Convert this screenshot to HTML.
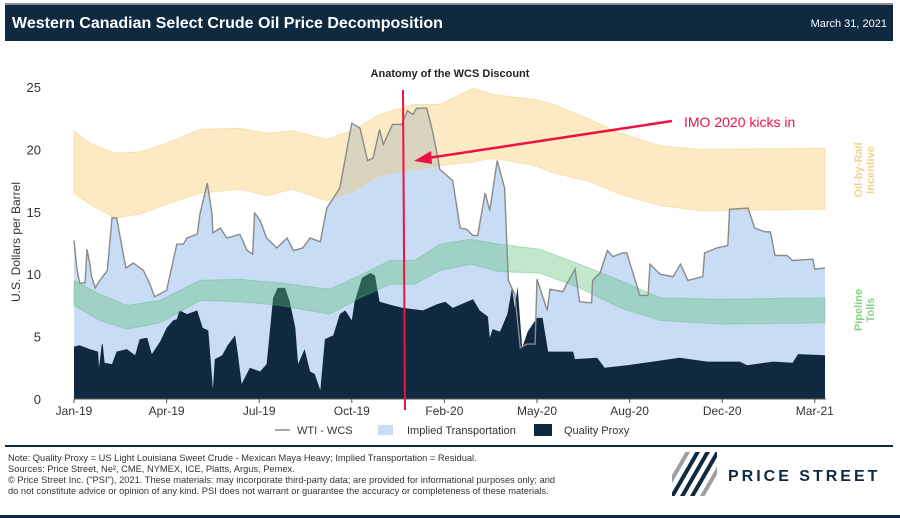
<!DOCTYPE html>
<html><head><meta charset="utf-8"><style>
body{margin:0;background:#fff;font-family:"Liberation Sans",Arial,sans-serif;}
#wrap{position:relative;width:900px;height:518px;overflow:hidden;background:#fff}
</style></head><body>
<div id="wrap">
<svg id="svg" width="900" height="518" viewBox="0 0 900 518" xmlns="http://www.w3.org/2000/svg">
<rect x="5" y="3" width="888" height="38" fill="#0f2940"/>
<rect x="5" y="3" width="888" height="2" fill="#8a8f96"/>
<text x="12" y="28" fill="#fff" font-size="16" font-weight="bold">Western Canadian Select Crude Oil Price Decomposition</text>
<text x="887" y="27" fill="#fff" font-size="11" text-anchor="end">March 31, 2021</text>
<text x="450" y="77" font-size="11" font-weight="bold" text-anchor="middle" fill="#222">Anatomy of the WCS Discount</text>
<text transform="translate(20,242) rotate(-90)" font-size="12" text-anchor="middle" fill="#333">U.S. Dollars per Barrel</text>
<g id="plot"></g>
<g id="axes"></g>
<text transform="translate(862,170) rotate(-90)" font-size="11" font-weight="bold" text-anchor="middle" fill="#f5d08a"><tspan x="0" dy="0">Oil-by-Rail</tspan><tspan x="0" dy="12">Incentive</tspan></text>
<text transform="translate(862,310) rotate(-90)" font-size="11" font-weight="bold" text-anchor="middle" fill="#86d486"><tspan x="0" dy="0">Pipeline</tspan><tspan x="0" dy="12">Tolls</tspan></text>
<line x1="403" y1="90" x2="405" y2="410" stroke="#ee1144" stroke-width="2"/>
<line x1="672" y1="121" x2="428" y2="158" stroke="#ee1144" stroke-width="2.5"/>
<polygon points="414,161 431,151 432,164" fill="#ee1144"/>
<text x="684" y="127" font-size="14" fill="#ee1144">IMO 2020 kicks in</text>
<g>
<line x1="275" y1="430" x2="290" y2="430" stroke="#8a8a8a" stroke-width="1.5"/>
<text x="297" y="434" font-size="11" fill="#333">WTI - WCS</text>
<rect x="378" y="425" width="15" height="10" fill="#c9dcf5"/>
<text x="407" y="434" font-size="11" fill="#333">Implied Transportation</text>
<rect x="534" y="424" width="18" height="12" fill="#0f2940"/>
<text x="564" y="434" font-size="11" fill="#333">Quality Proxy</text>
</g>
<rect x="5" y="445" width="888" height="2" fill="#0f2940"/>
<g font-size="9.3" fill="#333">
<text x="8" y="461">Note: Quality Proxy = US Light Louisiana Sweet Crude - Mexican Maya Heavy; Implied Transportation = Residual.</text>
<text x="8" y="472">Sources: Price Street, Ne², CME, NYMEX, ICE, Platts, Argus, Pemex.</text>
<text x="8" y="483">© Price Street Inc. ("PSI"), 2021. These materials: may incorporate third-party data; are provided for informational purposes only; and</text>
<text x="8" y="494">do not constitute advice or opinion of any kind. PSI does not warrant or guarantee the accuracy or completeness of these materials.</text>
</g>
<g>
<clipPath id="lc"><rect x="672" y="452" width="45" height="44"/></clipPath>
<g clip-path="url(#lc)" stroke-width="4">
<line x1="660" y1="500" x2="690" y2="448" stroke="#9aa0a6"/>
<line x1="670" y1="500" x2="700" y2="448" stroke="#0f2940"/>
<line x1="680" y1="500" x2="710" y2="448" stroke="#0f2940"/>
<line x1="690" y1="500" x2="720" y2="448" stroke="#0f2940"/>
<line x1="700" y1="500" x2="730" y2="448" stroke="#9aa0a6"/>
</g>
<text x="728" y="481" font-size="16" fill="#0f2940" letter-spacing="2.6" font-weight="bold" textLength="152" lengthAdjust="spacing">PRICE STREET</text>
</g>
<rect x="0" y="515" width="900" height="3" fill="#0f2940"/>
</svg>
</div>
<script>
// x values are in tick-index units (0 = Jan-19 ... 8 = Mar-21)
const xTickLabels = ["Jan-19","Apr-19","Jul-19","Oct-19","Feb-20","May-20","Aug-20","Dec-20","Mar-21"];
const yTicks = [0,5,10,15,20,25];
const spreadT = [0,.03,.06,.12,.14,.17,.19,.23,.28,.36,.41,.46,.50,.56,.64,.75,.82,.87,1.00,1.11,1.18,1.22,1.33,1.36,1.44,1.49,1.50,1.58,1.65,1.79,1.87,1.93,1.95,2.01,2.08,2.19,2.30,2.37,2.47,2.55,2.66,2.73,2.87,3.00,3.09,3.17,3.23,3.30,3.34,3.44,3.54,3.60,3.66,3.70,3.81,3.87,3.93,3.95,4.09,4.17,4.24,4.31,4.36,4.44,4.49,4.57,4.65,4.69,4.76,4.82,4.89,4.98,5.00,5.11,5.14,5.28,5.32,5.41,5.46,5.59,5.60,5.68,5.76,5.82,5.92,5.97,6.11,6.20,6.22,6.33,6.47,6.55,6.63,6.79,6.81,6.94,7.06,7.08,7.28,7.35,7.46,7.52,7.57,7.70,7.76,7.98,8.00,8.11];
const spreadV = [12.7,10.5,9.3,9.3,12.0,10.9,9.8,8.9,9.5,10.3,14.5,14.5,12.9,10.5,10.9,10.3,9.2,8.2,8.7,12.4,12.4,12.9,13.2,14.8,17.3,14.8,13.3,13.7,12.9,13.2,11.9,11.6,14.9,14.3,12.9,12.1,12.9,11.9,12.1,12.9,12.6,15.3,16.9,22.1,21.7,19.1,19.3,21.6,20.4,22.0,22.0,23.1,22.8,23.3,23.3,21.5,19.3,18.4,17.5,13.7,13.6,13.1,13.1,16.5,15.1,19.1,16.9,9.5,8.4,4.1,4.4,4.4,9.6,7.1,8.8,8.6,9.2,10.4,7.8,7.7,9.5,10.1,11.9,11.4,11.7,11.7,8.3,8.3,10.8,10.0,9.8,10.8,9.5,9.8,11.7,12.1,12.3,15.2,15.3,13.7,13.4,13.4,11.5,11.5,11.1,11.2,10.4,10.5];
const qualityT = [0,.06,.17,.26,.27,.30,.31,.33,.41,.46,.57,.66,.71,.79,.84,.93,1.00,1.07,1.11,1.14,1.22,1.33,1.39,1.45,1.50,1.52,1.60,1.66,1.74,1.77,1.81,1.90,2.01,2.08,2.15,2.20,2.28,2.33,2.39,2.42,2.49,2.55,2.60,2.66,2.71,2.80,2.87,2.93,3.00,3.03,3.11,3.20,3.25,3.30,3.44,3.55,3.77,3.92,4.01,4.09,4.31,4.38,4.47,4.49,4.52,4.60,4.68,4.73,4.76,4.79,4.84,4.90,5.00,5.06,5.12,5.39,5.41,5.65,5.73,5.97,6.25,6.54,6.84,7.19,7.27,7.55,7.76,7.82,8.11];
const qualityV = [4.2,4.3,4.0,3.8,2.5,4.4,4.4,2.9,2.8,3.8,4.0,3.5,4.8,4.9,3.6,4.6,5.7,6.3,6.4,7.1,6.8,7.1,5.7,5.5,0.8,3.2,3.5,4.3,5.1,3.6,1.2,2.5,2.2,2.8,8.1,8.9,8.9,7.8,5.7,2.8,4.0,2.2,2.0,0.7,4.8,5.1,6.8,7.1,6.3,7.8,9.7,10.1,9.9,7.8,7.5,7.3,7.1,7.6,7.8,7.3,8.0,7.1,6.6,4.9,5.6,5.4,6.8,8.9,7.3,9.0,4.1,5.4,6.5,6.5,3.8,3.8,3.2,3.3,2.5,2.7,3.0,3.3,3.0,3.0,2.7,3.0,2.9,3.6,3.5];
const railT = [0,.17,.44,.71,1.00,1.36,1.79,2.08,2.36,2.73,3.00,3.30,3.66,3.95,4.31,4.52,4.98,5.18,5.54,5.90,6.33,6.76,8.11];
const railHigh = [21.5,20.5,19.7,19.8,20.5,21.6,21.7,21.3,21.5,20.8,21.5,22.8,23.6,23.6,24.9,24.4,24.0,23.6,22.5,21.3,20.3,20.0,20.1];
const railLow = [16.5,15.6,14.5,14.8,15.6,16.5,16.8,16.3,16.8,15.9,16.6,17.9,18.4,18.7,19.0,19.3,18.7,18.1,17.5,16.4,15.5,15.1,15.2];
const pipeT = [0,.28,.57,.93,1.36,1.79,2.22,2.76,3.09,3.41,3.68,3.95,4.28,4.60,5.03,5.46,5.90,6.33,6.98,8.11];
const pipeHigh = [9.5,8.4,7.5,7.9,9.5,9.6,9.3,8.8,9.9,11.1,11.1,12.4,12.8,12.4,12.0,10.8,9.5,8.1,8.0,8.1];
const pipeLow = [7.5,6.3,5.6,6.1,7.9,7.8,7.5,6.8,8.1,9.2,9.2,10.3,10.8,10.2,10.1,8.9,7.3,6.3,6.0,6.1];

const NS="http://www.w3.org/2000/svg";
const X0=74, XSTEP=92.6, Y0=399, YU=12.48;
function xs(t){return X0+t*XSTEP;}
function ys(v){return Y0-v*YU;}
function mk(tag,attrs,parent){const e=document.createElementNS(NS,tag);for(const k in attrs)e.setAttribute(k,attrs[k]);parent.appendChild(e);return e;}
function lineStr(T,V){return T.map((t,i)=>xs(t).toFixed(1)+","+ys(V[i]).toFixed(1)).join(" L");}
function areaPath(T,V){return "M"+xs(T[0])+","+Y0+" L"+lineStr(T,V)+" L"+xs(T[T.length-1])+","+Y0+" Z";}
function bandPath(T,H,L){const rT=T.slice().reverse(),rL=L.slice().reverse();return "M"+lineStr(T,H)+" L"+lineStr(rT,rL)+" Z";}
const plot=document.getElementById("plot");
let p;
p=mk("path",{d:areaPath(spreadT,spreadV),fill:"#c9dcf5"},plot);


p=mk("path",{d:areaPath(qualityT,qualityV),fill:"#0f2940"},plot);


p=mk("path",{d:bandPath(railT,railHigh,railLow),fill:"#f5c864","fill-opacity":"0.38",stroke:"#f5c864","stroke-opacity":"0.4"},plot);


p=mk("path",{d:bandPath(pipeT,pipeHigh,pipeLow),fill:"#5cbf7a","fill-opacity":"0.38",stroke:"#5cbf7a","stroke-opacity":"0.4"},plot);


p=mk("path",{d:"M"+lineStr(spreadT,spreadV),fill:"none",stroke:"#8a8a8a","stroke-width":"1.4"},plot);



const axes=document.getElementById("axes");
let a=mk("line",{x1:X0,y1:Y0,x2:826,y2:Y0,stroke:"#555","stroke-width":"1"},axes);


xTickLabels.forEach((lab,i)=>{
  const tk=mk("line",{x1:xs(i),y1:Y0,x2:xs(i),y2:Y0+4,stroke:"#555"},axes);
  
  
  const tx=mk("text",{x:xs(i),y:415,"font-size":"12","text-anchor":"middle",fill:"#333"},axes);
  tx.textContent=lab;
  
  
});
yTicks.forEach(v=>{
  const tx=mk("text",{x:41,y:ys(v)+5,"font-size":"13","text-anchor":"end",fill:"#333"},axes);
  tx.textContent=v;
  
  
});
</script>
</body></html>
